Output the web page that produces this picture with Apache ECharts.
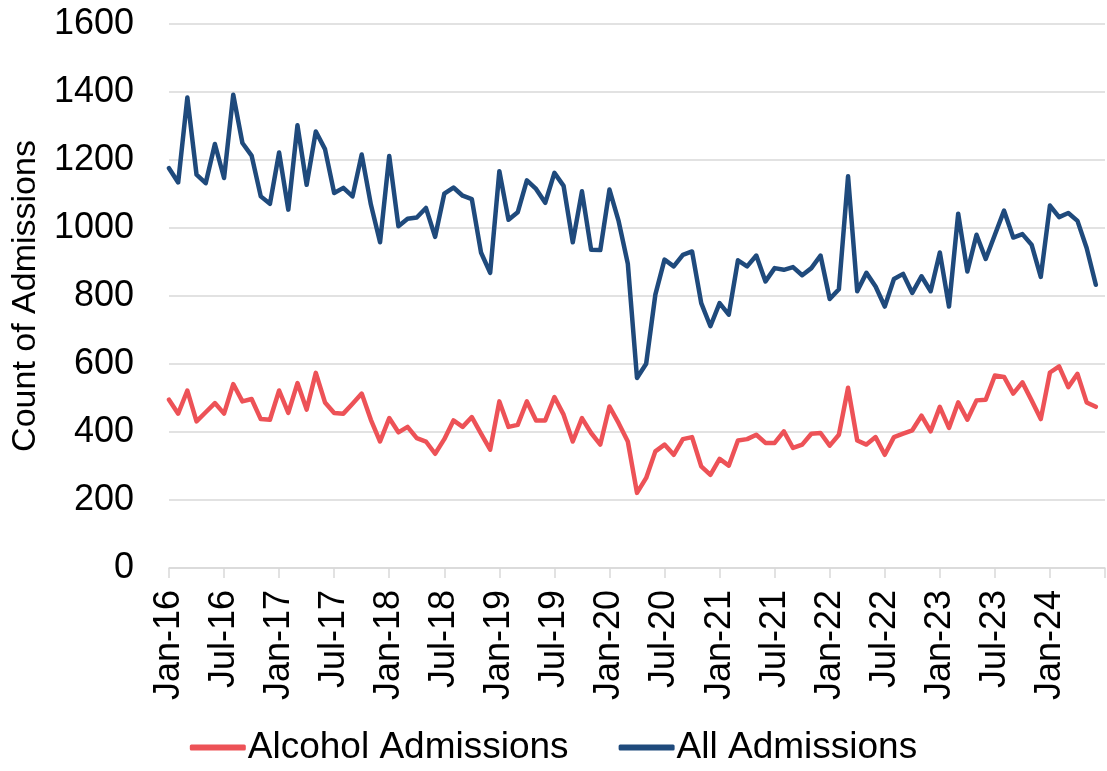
<!DOCTYPE html>
<html>
<head>
<meta charset="utf-8">
<script src="https://cdn.jsdelivr.net/npm/echarts@6/dist/echarts.min.js"></script>
<style>
  html, body { margin: 0; padding: 0; background: #ffffff; }
  #chart { width: 1107px; height: 771px; }
</style>
</head>
<body>
<div id="chart"></div>
<script>
// Month labels (Jan-16 .. Jul-24; the last one is only the axis end tick)
const monthNames = ['Jan','Feb','Mar','Apr','May','Jun','Jul','Aug','Sep','Oct','Nov','Dec'];
const years = ['16','17','18','19','20','21','22','23','24'];
const categories = [];
years.forEach(function (y) { monthNames.forEach(function (m) { categories.push(m + '-' + y); }); });
categories.length = 103; // Jan-16 .. Jul-24

const yTicks = [0, 200, 400, 600, 800, 1000, 1200, 1400, 1600];

const seriesNames = ['Alcohol Admissions', 'All Admissions'];

// Jan-16 .. Jun-24
const alcoholAdmissions = [
  495, 454, 522, 431, 458, 485, 454, 541, 490, 497, 438, 436,
  522, 456, 544, 466, 574, 487, 456, 454, 483, 513, 436, 372,
  441, 399, 415, 382, 372, 336, 379, 434, 415, 444, 395, 348,
  490, 415, 421, 490, 434, 434, 503, 451, 372, 441, 397, 363,
  475, 426, 372, 221, 265, 343, 363, 333, 379, 385, 299, 274,
  321, 301, 375, 379, 392, 368, 368, 402, 353, 363, 395, 397,
  360, 392, 530, 375, 363, 385, 333, 385, 395, 405, 448, 402,
  474, 412, 487, 436, 493, 495, 566, 562, 513, 546, 493, 438,
  575, 593, 532, 571, 487, 474
];

const allAdmissions = [
  1176, 1134, 1384, 1157, 1132, 1247, 1147, 1392, 1250, 1213, 1093, 1071,
  1222, 1054, 1302, 1127, 1284, 1232, 1103, 1118, 1093, 1216, 1069, 958,
  1212, 1005, 1027, 1031, 1059, 974, 1101, 1119, 1095, 1085, 928, 868,
  1167, 1024, 1046, 1140, 1115, 1074, 1162, 1124, 958, 1108, 936, 935,
  1113, 1020, 895, 559, 601, 804, 907, 887, 921, 931, 779, 711,
  779, 745, 905, 887, 919, 843, 882, 877, 885, 861, 882, 919,
  791, 820, 1152, 814, 868, 828, 769, 850, 865, 809, 858, 814,
  928, 769, 1042, 872, 980, 909, 980, 1051, 972, 982, 951, 856,
  1066, 1032, 1044, 1021, 941, 833
];

const FONT = '"Liberation Sans", Arial, sans-serif';
const chart = echarts.init(document.getElementById('chart'), null, { renderer: 'canvas' });

chart.setOption({
  animation: false,
  backgroundColor: '#ffffff',
  grid: { left: 169, right: 2, top: 24, bottom: 203, containLabel: false, outerBoundsMode: 'none' },
  legend: {
    data: seriesNames,
    bottom: 0,
    left: 'center',
    icon: 'roundRect',
    itemWidth: 56,
    itemHeight: 6,
    itemGap: 50,
    textStyle: { fontFamily: FONT, fontSize: 37, color: '#000000', padding: [0, 0, 0, -3] }
  },
  xAxis: {
    type: 'category',
    data: categories,
    boundaryGap: false,
    axisLine: { show: true, lineStyle: { color: '#d9d9d9', width: 1.5 } },
    axisTick: {
      show: true, length: 10,
      interval: function (idx) { return idx % 6 === 0; },
      lineStyle: { color: '#d9d9d9', width: 1.5 }
    },
    axisLabel: {
      rotate: 90,
      margin: 22,
      interval: function (idx) { return idx % 6 === 0 && idx < 102; },
      fontFamily: FONT, fontSize: 36, color: '#000000'
    },
    splitLine: { show: false }
  },
  yAxis: {
    type: 'value',
    min: yTicks[0],
    max: yTicks[yTicks.length - 1],
    interval: 200,
    name: 'Count of Admissions',
    nameLocation: 'middle',
    nameRotate: 90,
    nameGap: 126,
    nameTextStyle: { fontFamily: FONT, fontSize: 34, color: '#000000' },
    axisLine: { show: false },
    axisTick: { show: false },
    axisLabel: {
      margin: 35, fontFamily: FONT, fontSize: 36, color: '#000000',
      formatter: function (v) { return String(v); }
    },
    splitLine: { show: true, lineStyle: { color: '#d9d9d9', width: 1.5 } }
  },
  series: [
    {
      name: seriesNames[0],
      type: 'line',
      data: alcoholAdmissions,
      symbol: 'none',
      color: '#ED5257',
      lineStyle: { width: 4.5, color: '#ED5257', join: 'round', cap: 'round' },
      z: 3
    },
    {
      name: seriesNames[1],
      type: 'line',
      data: allAdmissions,
      symbol: 'none',
      color: '#1F4A7C',
      lineStyle: { width: 4.5, color: '#1F4A7C', join: 'round', cap: 'round' },
      z: 2
    }
  ]
});
</script>
</body>
</html>
